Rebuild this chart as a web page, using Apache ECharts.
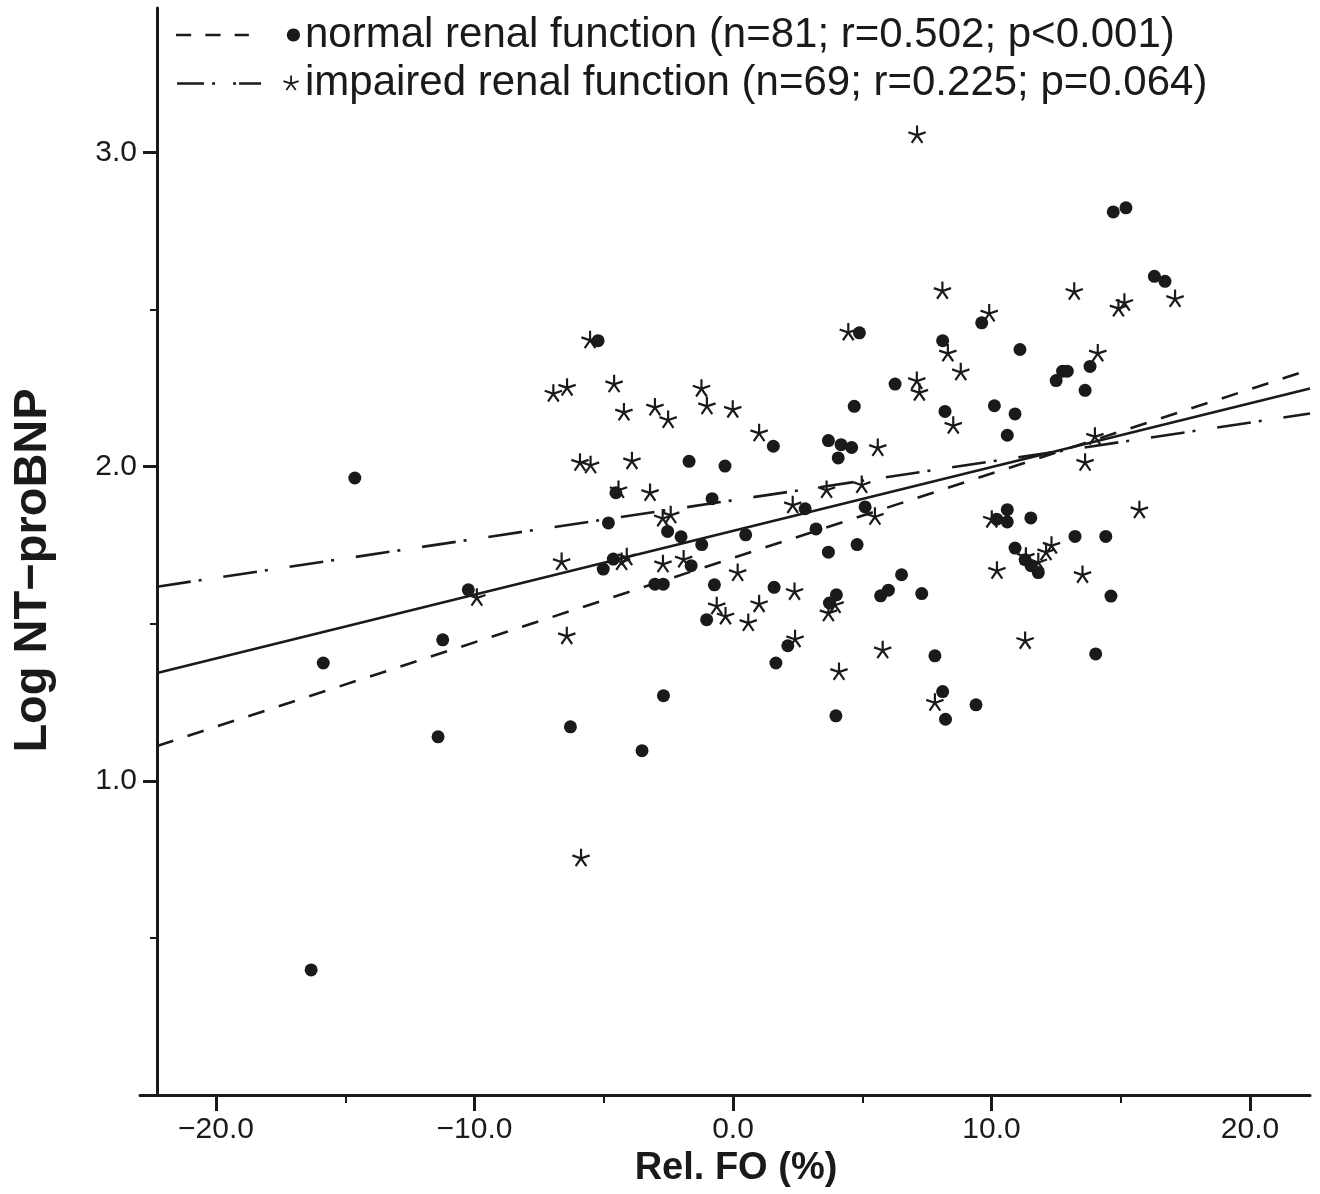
<!DOCTYPE html>
<html><head><meta charset="utf-8">
<script src="https://cdn.jsdelivr.net/npm/echarts@6/dist/echarts.min.js"></script>
<style>html,body{margin:0;padding:0;background:#fff}#c{width:1320px;height:1194px}</style>
</head><body><div id="c"></div>
<script>
// ---- data ----
const normalX = [-14.63,-15.85,-16.32,-11.41,-11.23,-10.24,-6.29,-3.52,-2.69,-5.22,-4.82,-4.53,-4.63,-5.02,-2.53,-2.01,-1.21,-1.62,-3.02,-2.70,-0.72,-1.02,-1.70,-0.31,-0.81,0.49,1.59,1.56,3.69,4.18,4.59,4.07,4.69,4.89,6.27,2.79,5.11,3.21,4.80,3.69,4.00,3.73,5.71,6.01,6.52,7.30,2.12,1.66,3.98,7.81,8.11,8.22,9.40,14.71,15.20,16.30,16.71,9.62,8.11,11.10,12.75,12.93,12.50,13.81,13.62,8.20,10.11,10.91,10.61,10.61,10.20,10.61,11.52,13.23,14.42,10.91,11.30,11.53,11.81,14.62,14.03];
const normalY = [1.964,1.375,0.398,1.140,1.449,1.608,1.172,1.096,1.271,2.401,1.821,1.917,1.706,1.674,1.794,1.777,1.752,1.685,1.626,1.626,1.624,1.513,2.017,2.002,1.898,1.783,1.616,2.065,2.083,2.070,2.061,2.028,2.192,2.426,2.263,1.866,1.872,1.802,1.752,1.728,1.592,1.566,1.589,1.607,1.656,1.596,1.430,1.375,1.207,1.398,1.284,1.196,1.242,2.811,2.824,2.606,2.590,2.458,2.401,2.373,2.304,2.304,2.274,2.319,2.243,2.176,2.194,2.168,2.100,1.863,1.833,1.824,1.837,1.778,1.778,1.741,1.704,1.685,1.663,1.588,1.404];
const impairedX = [-9.91,-5.88,-5.53,-6.95,-6.42,-4.60,-4.22,-3.02,-2.51,-1.22,-1.01,-0.01,1.01,-5.92,-5.51,-3.91,-4.43,-3.21,-2.72,-2.41,-6.63,-4.31,-4.11,-2.71,-1.91,0.18,-6.43,-0.63,-0.29,1.01,0.59,2.31,3.62,4.98,5.49,5.60,4.46,2.38,3.69,3.95,2.40,5.79,4.10,7.81,8.10,13.20,9.91,14.91,15.14,17.10,8.31,8.81,14.11,7.11,7.21,8.52,14.00,13.62,15.72,10.01,12.32,12.11,11.33,11.81,10.21,13.52,11.30,7.12];
const impairedY = [1.584,0.755,2.404,2.234,2.253,2.264,2.174,2.190,2.150,2.250,2.194,2.183,2.108,2.014,2.006,2.019,1.927,1.918,1.837,1.847,1.698,1.698,1.713,1.691,1.706,1.663,1.462,1.557,1.525,1.564,1.504,1.879,1.927,1.943,1.842,2.061,2.429,1.603,1.535,1.561,1.452,1.417,1.348,1.250,2.561,2.558,2.489,2.505,2.523,2.535,2.362,2.302,2.362,2.274,2.237,2.132,2.097,2.014,1.863,1.833,1.750,1.729,1.715,1.697,1.670,1.657,1.447,3.057];
const fitAllX = [-22.28, 22.32];
const fitAllY = [1.343, 2.249];
const fitNormalX = [-22.28, 22.32];
const fitNormalY = [1.111, 2.309];
const fitImpairedX = [-22.28, 22.32];
const fitImpairedY = [1.618, 2.169];
const xMajorTicks = [-20, -10, 0, 10, 20];
const xMinorTicks = [-15, -5, 5, 15];
const yMajorTicks = [1, 2, 3];
const yMinorTicks = [0.5, 1.5, 2.5];
const legendNames = ['normal renal function (n=81; r=0.502; p<0.001)', 'impaired renal function (n=69; r=0.225; p=0.064)'];
const xTitle = 'Rel. FO (%)';
const yTitle = 'Log NT\u2212proBNP';

// ---- helpers for symbol shapes ----
const zip = (a, b) => a.map((v, i) => [v, b[i]]);
function armPath(cx, cy, ang, r, hw) {
  const dx = Math.cos(ang), dy = Math.sin(ang), nx = -dy, ny = dx;
  const b = -hw;
  const pts = [
    [cx + dx * b + nx * hw, cy + dy * b + ny * hw],
    [cx + dx * r + nx * hw, cy + dy * r + ny * hw],
    [cx + dx * r - nx * hw, cy + dy * r - ny * hw],
    [cx + dx * b - nx * hw, cy + dy * b - ny * hw]
  ];
  return 'M' + pts.map(p => p[0].toFixed(3) + ' ' + p[1].toFixed(3)).join(' L') + ' Z ';
}
function asterisk(cx, cy, r, hw) {
  let s = '';
  for (let i = 0; i < 5; i++) s += armPath(cx, cy, -Math.PI / 2 + i * 2 * Math.PI / 5, r, hw);
  return s;
}
function rectPath(x0, x1, h) { return `M${x0} ${-h} L${x1} ${-h} L${x1} ${h} L${x0} ${h} Z `; }
function circlePath(cx, r) {
  const pts = [];
  for (let i = 0; i < 24; i++) { const a = i * Math.PI * 2 / 24; pts.push((cx + r * Math.cos(a)).toFixed(3) + ' ' + (r * Math.sin(a)).toFixed(3)); }
  return 'M' + pts.join(' L') + ' Z ';
}

const starSymbol = 'path://' + asterisk(0, 0, 10, 1.2);
const legendIconNormal = 'path://' + rectPath(0, 15, 1.3) + rectPath(29, 44, 1.3) + rectPath(58, 72, 1.3) + circlePath(116, 6.5);
const legendIconImpaired = 'path://' + rectPath(0, 27, 1.3) + rectPath(35, 38, 1.3) + rectPath(56, 59, 1.3) + rectPath(62, 84, 1.3) + asterisk(114, 0, 8, 0.9);

const font = '"Liberation Sans", Arial, sans-serif';
const ink = '#1a1a1a';
const fmt = v => (v < 0 ? '\u2212' : '') + Math.abs(v).toFixed(1);

const chart = echarts.init(document.getElementById('c'), null, { renderer: 'canvas' });
chart.setOption({
  animation: false,
  backgroundColor: '#fff',
  grid: { left: 140, right: 10, top: 8, bottom: 99, containLabel: false },
  legend: {
    orient: 'vertical', left: 171, top: 9, itemWidth: 124, itemHeight: 15, itemGap: 6,
    selectedMode: false,
    textStyle: { fontFamily: font, fontSize: 42, color: ink, lineHeight: 42 },
    data: [{ name: legendNames[0], icon: legendIconNormal }, { name: legendNames[1], icon: legendIconImpaired }]
  },
  xAxis: [{
    type: 'value', position: 'bottom', min: -22.94, max: 22.32,
    axisLine: { show: true, onZero: false, lineStyle: { color: ink, width: 3 } },
    axisTick: { show: true, customValues: xMajorTicks, length: 16, lineStyle: { color: ink, width: 3 } },
    axisLabel: { show: true, customValues: xMajorTicks, formatter: fmt, margin: 20, fontFamily: font, fontSize: 30, color: ink },
    splitLine: { show: false },
    name: xTitle, nameLocation: 'middle', nameGap: 50,
    nameTextStyle: { fontFamily: font, fontSize: 38, fontWeight: 'bold', color: ink, padding: [0, 0, 0, 22] }
  }, {
    type: 'value', position: 'bottom', min: -22.94, max: 22.32,
    axisLine: { show: false, onZero: false },
    axisTick: { show: true, customValues: xMinorTicks, length: 8, lineStyle: { color: ink, width: 2 } },
    axisLabel: { show: false },
    splitLine: { show: false }
  }],
  yAxis: [{
    type: 'value', position: 'left', offset: -17, min: 0, max: 3.46,
    axisLine: { show: true, onZero: false, lineStyle: { color: ink, width: 3 } },
    axisTick: { show: true, customValues: yMajorTicks, length: 14, lineStyle: { color: ink, width: 3 } },
    axisLabel: { show: true, customValues: yMajorTicks, formatter: fmt, margin: 20, fontFamily: font, fontSize: 30, color: ink },
    splitLine: { show: false },
    name: yTitle, nameLocation: 'middle', nameGap: 100,
    nameTextStyle: { fontFamily: font, fontSize: 47, fontWeight: 'bold', color: ink, padding: [0, 38, 0, 0] }
  }, {
    type: 'value', position: 'left', offset: -17, min: 0, max: 3.46,
    axisLine: { show: false, onZero: false },
    axisTick: { show: true, customValues: yMinorTicks, length: 7, lineStyle: { color: ink, width: 2 } },
    axisLabel: { show: false },
    splitLine: { show: false }
  }],
  series: [
    { name: 'all patients', type: 'line', data: zip(fitAllX, fitAllY), symbol: 'none', silent: true, z: 2,
      lineStyle: { color: ink, width: 2.6, type: 'solid' } },
    { name: 'normal fit', type: 'line', data: zip(fitNormalX, fitNormalY), symbol: 'none', silent: true, z: 2,
      lineStyle: { color: ink, width: 2.6, type: [17, 15] } },
    { name: 'impaired fit', type: 'line', data: zip(fitImpairedX, fitImpairedY), symbol: 'none', silent: true, z: 2,
      lineStyle: { color: ink, width: 2.6, type: [34, 8, 3, 22] } },
    { name: legendNames[0], type: 'scatter', data: zip(normalX, normalY), symbol: 'circle', symbolSize: 13, z: 3,
      itemStyle: { color: ink, opacity: 1 } },
    { name: legendNames[1], type: 'scatter', data: zip(impairedX, impairedY), symbol: starSymbol, symbolSize: 18, z: 3,
      itemStyle: { color: ink, opacity: 1 } }
  ]
});
</script>
</body></html>
